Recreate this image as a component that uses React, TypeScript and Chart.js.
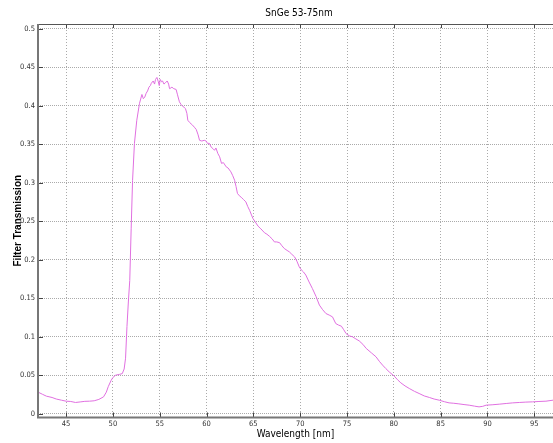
import React, { useEffect, useRef } from 'react';
import { Chart, registerables } from 'chart.js';

Chart.register(...registerables);

const wavelengths = [
  42.0, 42.5, 42.9, 43.5, 43.95, 44.5, 45.0, 45.5, 46.0, 46.5, 47.0, 47.5, 48.0, 48.5, 49.0, 49.3, 49.5, 49.8,
  50.0, 50.3, 50.7, 51.0, 51.2, 51.35, 51.5, 51.65, 51.8, 51.95, 52.1, 52.3, 52.55, 52.84, 53.1, 53.25, 53.4,
  53.55, 53.7, 53.85, 54.0, 54.1, 54.3, 54.45, 54.55, 54.7, 54.85, 54.95, 55.05, 55.2, 55.3, 55.45, 55.6, 55.8,
  55.95, 56.05, 56.2, 56.3, 56.5, 56.75, 56.9, 57.1, 57.3, 57.45, 57.6, 57.75, 57.9, 58.0, 58.2, 58.5, 58.7,
  58.9, 59.1, 59.25, 59.5, 59.75, 59.96, 60.1, 60.3, 60.5, 60.7, 60.85, 61.0, 61.2, 61.4, 61.6, 61.8, 62.1,
  62.3, 62.6, 62.8, 63.0, 63.15, 63.3, 63.5, 63.7, 63.95, 64.2, 64.4, 64.6, 64.8, 64.95, 65.2, 65.5, 65.8,
  66.2, 66.45, 66.7, 67.0, 67.25, 67.5, 67.8, 68.05, 68.3, 68.6, 68.85, 69.1, 69.4, 69.65, 69.9, 70.1, 70.35,
  70.6, 70.95, 71.3, 71.7, 72.05, 72.4, 72.75, 73.1, 73.45, 73.8, 74.1, 74.4, 74.65, 74.9, 75.25, 75.6, 75.95,
  76.3, 76.7, 77.05, 77.6, 78.1, 78.45, 78.8, 79.15, 79.5, 80.05, 80.4, 80.75, 81.2, 81.65, 82.2, 82.7, 83.25,
  83.8, 84.3, 84.85, 85.4, 85.9, 86.4, 86.95, 87.5, 88.05, 88.6, 89.1, 89.5, 89.85, 90.5, 91.25, 92.0, 92.7,
  93.4, 94.1, 94.8, 95.5, 96.25, 97.0,
];

const transmission = [
  0.028, 0.025, 0.0227, 0.021, 0.019, 0.0175, 0.0162, 0.0158, 0.0145, 0.0152, 0.016, 0.0162, 0.0167, 0.0185,
  0.0218, 0.028, 0.035, 0.043, 0.047, 0.05, 0.051, 0.052, 0.058, 0.072, 0.113, 0.145, 0.173, 0.24, 0.303,
  0.351, 0.381, 0.403, 0.4145, 0.409, 0.411, 0.416, 0.419, 0.424, 0.426, 0.429, 0.432, 0.428, 0.434, 0.4366,
  0.431, 0.426, 0.434, 0.431, 0.432, 0.428, 0.4296, 0.432, 0.428, 0.422, 0.423, 0.424, 0.422, 0.421, 0.414,
  0.405, 0.401, 0.399, 0.398, 0.396, 0.39, 0.381, 0.378, 0.3747, 0.372, 0.369, 0.362, 0.355, 0.354, 0.355,
  0.354, 0.351, 0.351, 0.346, 0.344, 0.342, 0.345, 0.338, 0.3335, 0.325, 0.326, 0.3205, 0.319, 0.314, 0.309,
  0.303, 0.295, 0.286, 0.283, 0.281, 0.278, 0.275, 0.269, 0.264, 0.258, 0.2535, 0.249, 0.2435, 0.24, 0.2348,
  0.233, 0.2305, 0.227, 0.223, 0.223, 0.222, 0.218, 0.2145, 0.212, 0.21, 0.207, 0.2036, 0.198, 0.1906, 0.187,
  0.184, 0.18, 0.171, 0.1626, 0.152, 0.141, 0.135, 0.13, 0.128, 0.1257, 0.117, 0.115, 0.1136, 0.109, 0.104,
  0.101, 0.0997, 0.097, 0.0945, 0.09, 0.0847, 0.079, 0.0738, 0.068, 0.063, 0.0585, 0.0543, 0.0487, 0.044,
  0.04, 0.036, 0.0327, 0.029, 0.0262, 0.023, 0.021, 0.019, 0.0175, 0.0155, 0.014, 0.0135, 0.0127, 0.0118,
  0.011, 0.0098, 0.0088, 0.0095, 0.011, 0.0115, 0.0123, 0.0132, 0.014, 0.0145, 0.015, 0.0153, 0.0158, 0.0162,
  0.0175,
];

const xTicks = [45, 50, 55, 60, 65, 70, 75, 80, 85, 90, 95];
const xTickLabels = ['45', '50', '55', '60', '65', '70', '75', '80', '85', '90', '95'];
const yTicks = [0, 0.05, 0.1, 0.15, 0.2, 0.25, 0.3, 0.35, 0.4, 0.45, 0.5];
const yTickLabels = ['0', '0.05', '0.1', '0.15', '0.2', '0.25', '0.3', '0.35', '0.4', '0.45', '0.5'];

const titleText = 'SnGe 53-75nm';
const xLabel = 'Wavelength [nm]';
const yLabel = 'Filter Transmission';

const NARROW = "'Liberation Sans Narrow', 'Arial Narrow', 'DejaVu Sans Condensed', 'Liberation Sans', sans-serif";

const framePlugin = {
  id: 'matlabFrame',
  afterDraw(chart: any) {
    const { ctx, chartArea, scales } = chart;
    const { left, top, right, bottom } = chartArea;
    const xs = scales.x;
    const ys = scales.y;
    ctx.save();
    // inward tick marks
    ctx.strokeStyle = '#444';
    ctx.lineWidth = 1;
    ctx.beginPath();
    xTicks.forEach((v) => {
      const px = Math.round(xs.getPixelForValue(v)) + 0.5;
      ctx.moveTo(px, bottom);
      ctx.lineTo(px, bottom - 5);
      ctx.moveTo(px, top);
      ctx.lineTo(px, top + 4);
    });
    yTicks.forEach((v) => {
      const py = Math.round(ys.getPixelForValue(v)) + 0.5;
      ctx.moveTo(left, py);
      ctx.lineTo(left + 5, py);
    });
    ctx.stroke();
    // box
    ctx.strokeStyle = '#555';
    ctx.lineWidth = 1;
    ctx.beginPath();
    ctx.moveTo(left, Math.round(top) + 0.5);
    ctx.lineTo(right, Math.round(top) + 0.5);
    ctx.stroke();
    ctx.strokeStyle = '#777';
    ctx.lineWidth = 2;
    ctx.beginPath();
    ctx.moveTo(left, top);
    ctx.lineTo(left, bottom);
    ctx.lineTo(right, bottom);
    ctx.stroke();
    // title
    ctx.fillStyle = '#000';
    ctx.font = `10px ${NARROW}`;
    ctx.textAlign = 'center';
    ctx.textBaseline = 'middle';
    ctx.fillText(titleText, (left + right) / 2 + 3.5, 13);
    ctx.restore();
  },
};

export default function App() {
  const canvasRef = useRef<HTMLCanvasElement | null>(null);

  useEffect(() => {
    const canvas = canvasRef.current;
    if (!canvas) return;
    const points = wavelengths.map((w, i) => ({ x: w, y: transmission[i] }));
    const chart = new Chart(canvas, {
      type: 'line',
      data: {
        datasets: [
          {
            data: points,
            borderColor: '#e070e0',
            borderWidth: 1,
            pointRadius: 0,
            tension: 0,
            fill: false,
          },
        ],
      },
      options: {
        animation: false,
        responsive: false,
        events: [],
        layout: { padding: { top: 24, left: 0, right: 0, bottom: 0 } },
        plugins: {
          legend: { display: false },
          tooltip: { enabled: false },
          title: { display: false },
        },
        scales: {
          x: {
            type: 'linear',
            min: 42,
            max: 97,
            afterBuildTicks: (s: any) => {
              s.ticks = xTicks.map((v) => ({ value: v }));
            },
            afterFit: (s: any) => {
              s.height = 25.5;
            },
            ticks: {
              autoSkip: false,
              maxRotation: 0,
              padding: 2,
              color: '#333',
              font: { family: NARROW, size: 7.5 },
              callback: (_v: any, i: number) => xTickLabels[i],
            },
            grid: {
              color: '#aaa',
              lineWidth: 1,
              drawTicks: false,
            },
            border: { display: false, dash: [1, 2] },
            title: {
              display: true,
              text: xLabel,
              color: '#000',
              font: { family: NARROW, size: 10 },
              padding: { top: 0, bottom: 3 },
            },
          },
          y: {
            type: 'linear',
            min: -0.005,
            max: 0.506,
            afterBuildTicks: (s: any) => {
              s.ticks = yTicks.map((v) => ({ value: v }));
            },
            afterFit: (s: any) => {
              s.width = 38;
            },
            ticks: {
              autoSkip: false,
              padding: 3,
              color: '#333',
              font: { family: NARROW, size: 7.5 },
              callback: (_v: any, i: number) => yTickLabels[i],
            },
            grid: {
              color: '#aaa',
              lineWidth: 1,
              drawTicks: false,
            },
            border: { display: false, dash: [1, 1] },
            title: {
              display: true,
              text: yLabel,
              color: '#000',
              font: { family: "'Liberation Sans', Arial, sans-serif", size: 10, weight: 'bold' },
              padding: { top: 12.5, bottom: 0 },
            },
          },
        },
      },
      plugins: [framePlugin],
    });
    return () => chart.destroy();
  }, []);

  return (
    <div style={{ position: 'absolute', left: 0, top: 0, width: 553, height: 443, background: '#fff' }}>
      <canvas ref={canvasRef} width={553} height={443} style={{ width: 553, height: 443, display: 'block' }} />
    </div>
  );
}
